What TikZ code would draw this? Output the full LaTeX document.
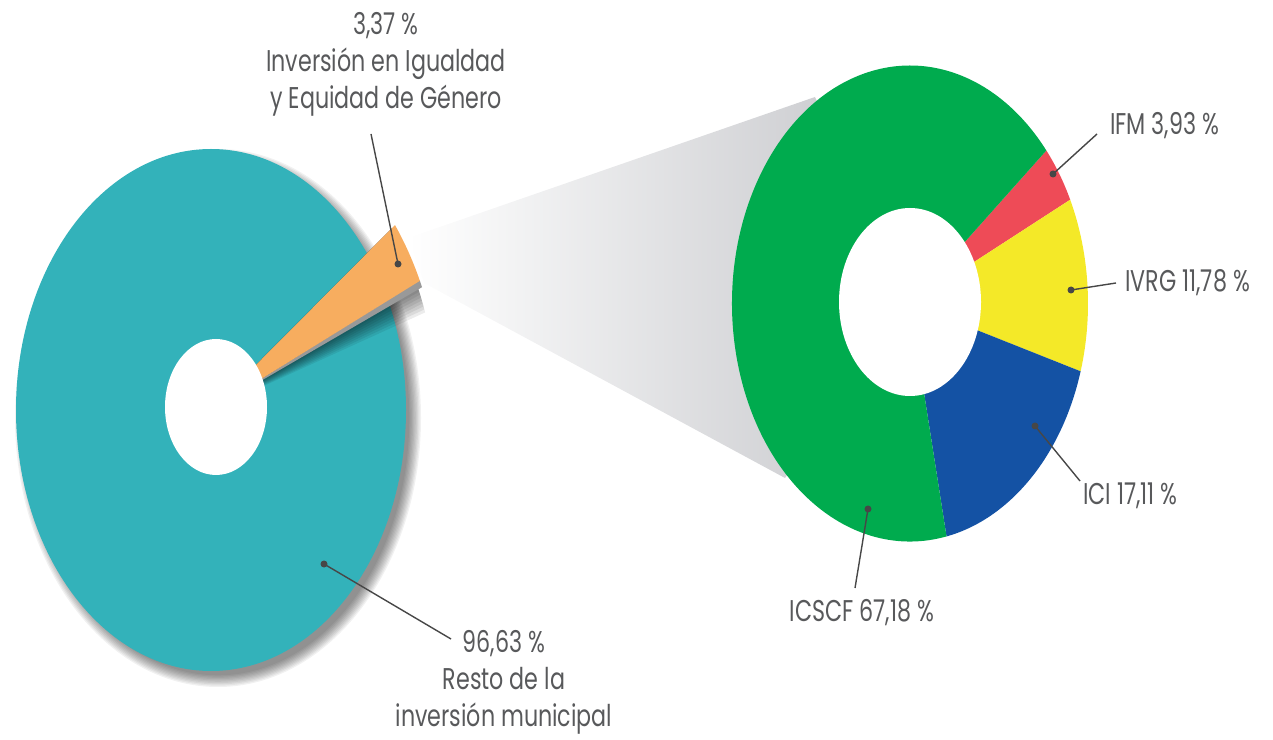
\documentclass[tikz,border=0pt]{standalone}
\usepackage{fontspec}
\setmainfont{Poppins}[FakeStretch=0.74]

\definecolor{ringteal}{RGB}{51,178,186}
\definecolor{sliceorange}{RGB}{247,173,95}
\definecolor{slicegreen}{RGB}{0,171,78}
\definecolor{slicered}{RGB}{238,75,87}
\definecolor{sliceyellow}{RGB}{244,233,40}
\definecolor{sliceblue}{RGB}{20,82,164}
\definecolor{labelgray}{RGB}{88,89,91}
\definecolor{funnelgray}{RGB}{196,197,201}

\begin{document}
\begin{tikzpicture}[x=1pt,y=1pt,
  lbl/.style={text=labelgray,font=\fontsize{30}{37}\selectfont,inner sep=0pt},
  leader/.style={draw=black!72,line width=1.4pt},
  dotend/.style={fill=black!72}]
\useasboundingbox (0,0) rectangle (1273,739);

% funnel towards the detail ring
\shade[left color=white,right color=funnelgray] (408,501) -- (815,642) -- (910,435) -- (785,261) -- (424,456) -- cycle;

% left ring, soft shadow first
\foreach \i in {0,...,9}
  \fill[black,opacity=0.055] (218,321) ellipse [x radius=203-\i*1.3, y radius=269-\i*1.3];
\fill[ringteal] (211,329) ellipse [x radius=195, y radius=261];

\begin{scope}[shift={(211,329)},xscale=195,yscale=261]
  \foreach \i in {1,...,10}
    \fill[black,opacity=0.075] (0,0) -- ({24.8-\i*0.6}:1.16) arc[start angle={24.8-\i*0.6},end angle=36.9,radius=1.16] -- cycle;
  \fill[black!40] (0,0) -- (23.5:1.18) arc[start angle=23.5,end angle=24.9,radius=1.18] -- cycle;
  \fill[sliceorange] (0,0) -- (24.8:1.18) arc[start angle=24.8,end angle=36.9,radius=1.18] -- cycle;
\end{scope}
\fill[white] (216,332) ellipse [x radius=51, y radius=68];

% right ring
\begin{scope}[shift={(910,435.5)},xscale=178,yscale=238]
  \fill[slicered] (0,0) -- (40:1) arc[start angle=40,end angle=25.85,radius=1] -- cycle;
  \fill[sliceyellow] (0,0) -- (25.85:1) arc[start angle=25.85,end angle=-16.56,radius=1] -- cycle;
  \fill[sliceblue] (0,0) -- (-16.56:1) arc[start angle=-16.56,end angle=-78.16,radius=1] -- cycle;
  \fill[slicegreen] (0,0) -- (-78.16:1) arc[start angle=-78.16,end angle=-320,radius=1] -- cycle;
\end{scope}
\fill[white] (910,437) ellipse [x radius=71, y radius=94];

% labels
\node[lbl,align=center] (tIgualdad) at (386,675) {3,37 \%\\Inversión en Igualdad\\y Equidad de Género};
\node[lbl,align=center] (tResto) at (504,57) {96,63 \%\\Resto de la\\inversión municipal};
\node[lbl,anchor=west] (tIFM) at (1110,613) {IFM 3,93 \%};
\node[lbl,anchor=west] (tIVRG) at (1125,456) {IVRG 11,78 \%};
\node[lbl,anchor=west] (tICI) at (1083,243) {ICI 17,11 \%};
\node[lbl] (tICSCF) at (862,126) {ICSCF 67,18 \%};

% leader lines
\coordinate (dIgualdad) at (398,475);
\coordinate (eIgualdad) at (371,605);
\coordinate (dResto) at (324,175);
\coordinate (eResto) at (451,100);
\coordinate (dIFM) at (1053,565);
\coordinate (eIFM) at (1097,605);
\coordinate (dIVRG) at (1071,449);
\coordinate (eIVRG) at (1116,456);
\coordinate (dICI) at (1035,313);
\coordinate (eICI) at (1080,258);
\coordinate (dICSCF) at (868,230);
\coordinate (eICSCF) at (855,151);

\foreach \n in {Igualdad,Resto,IFM,IVRG,ICI,ICSCF} {
  \draw[leader] (d\n) -- (e\n);
  \fill[dotend] (d\n) circle[radius=3.5];
}

\end{tikzpicture}
\end{document}
